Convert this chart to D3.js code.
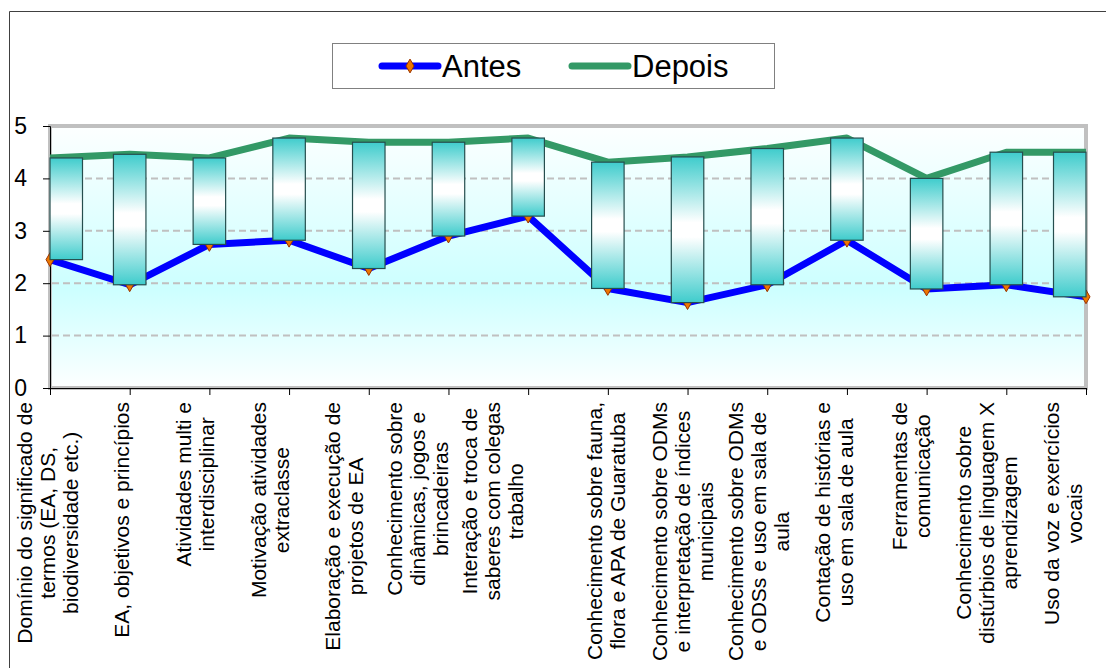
<!DOCTYPE html>
<html>
<head>
<meta charset="utf-8">
<script src="https://cdn.jsdelivr.net/npm/d3@7"></script>
<style>
  body { margin: 0; background: #fff; }
  svg { display: block; font-family: "Liberation Sans", Arial, sans-serif; }
</style>
</head>
<body>
<div id="chart"></div>
<script>
// categories (line breaks as in the original axis labels)
const categories = [
  "Domínio do significado de\ntermos (EA, DS,\nbiodiversidade etc.)",
  "EA, objetivos e princípios",
  "Atividades multi e\ninterdisciplinar",
  "Motivação atividades\nextraclasse",
  "Elaboração e execução de\nprojetos de EA",
  "Conhecimento sobre\ndinâmicas, jogos e\nbrincadeiras",
  "Interação e troca de\nsaberes com colegas\ntrabalho",
  "Conhecimento sobre fauna,\nflora e APA de Guaratuba",
  "Conhecimento sobre ODMs\ne interpretação de índices\nmunicipais",
  "Conhecimento sobre ODMs\ne ODSs e uso em sala de\naula",
  "Contação de histórias e\nuso em sala de aula",
  "Ferramentas de\ncomunicação",
  "Conhecimento sobre\ndistúrbios de linguagem X\naprendizagem",
  "Uso da voz e exercícios\nvocais"
];
const antes  = [2.45, 1.97, 2.74, 2.82, 2.28, 2.90, 3.28, 1.90, 1.63, 1.97, 2.82, 1.89, 1.97, 1.74];
const depois = [4.39, 4.46, 4.39, 4.77, 4.69, 4.69, 4.77, 4.31, 4.41, 4.57, 4.77, 4.00, 4.50, 4.50];
const yTicks = [0, 1, 2, 3, 4, 5];
const seriesNames = ["Antes", "Depois"];

const W = 1106, H = 668;
const plot = {left: 50, right: 1086, top: 126, bottom: 388};

const svg = d3.select("#chart").append("svg")
    .attr("width", W)
    .attr("height", H);

const defs = svg.append("defs");

// plot area background: white -> light cyan -> white
const bg = defs.append("linearGradient").attr("id", "bgGrad")
    .attr("x1", 0).attr("y1", 0).attr("x2", 0).attr("y2", 1);
bg.append("stop").attr("offset", "0%").attr("stop-color", "#fdffff");
bg.append("stop").attr("offset", "62%").attr("stop-color", "#ccffff");
bg.append("stop").attr("offset", "100%").attr("stop-color", "#fdffff");

// up bars: teal -> white -> teal
const bar = defs.append("linearGradient").attr("id", "barGrad")
    .attr("x1", 0).attr("y1", 0).attr("x2", 0).attr("y2", 1);
bar.append("stop").attr("offset", "0%").attr("stop-color", "#3fcccc");
bar.append("stop").attr("offset", "45%").attr("stop-color", "#ffffff");
bar.append("stop").attr("offset", "55%").attr("stop-color", "#ffffff");
bar.append("stop").attr("offset", "100%").attr("stop-color", "#3fcccc");

// chart area border (only top and left are inside the picture)
svg.append("path")
    .attr("d", "M9.5," + H + "V11.5H" + W)
    .attr("fill", "none")
    .attr("stroke", "#404040")
    .attr("stroke-width", 1);

// scales
const x = d3.scalePoint()
    .domain(d3.range(categories.length))
    .range([plot.left, plot.right]);

const y = d3.scaleLinear()
    .domain([0, 5])
    .range([plot.bottom, plot.top]);

// plot area
svg.append("rect")
    .attr("x", plot.left).attr("y", plot.top)
    .attr("width", plot.right - plot.left)
    .attr("height", plot.bottom - plot.top)
    .attr("fill", "url(#bgGrad)")
    .attr("stroke", "#c0c0c0")
    .attr("stroke-width", 4);

// gridlines
svg.append("g")
    .selectAll("line")
    .data(yTicks.filter(d => d > 0 && d < 5))
    .enter().append("line")
    .attr("x1", plot.left + 2).attr("x2", plot.right - 2)
    .attr("y1", d => y(d)).attr("y2", d => y(d))
    .attr("stroke", "#c0c0c0")
    .attr("stroke-width", 2)
    .attr("stroke-dasharray", "7,4");

// y axis
const yAxis = svg.append("g")
    .attr("transform", "translate(" + plot.left + ",0)")
    .call(d3.axisLeft(y).tickValues(yTicks).tickFormat(d3.format("d")).tickSize(7).tickPadding(16));
yAxis.select(".domain").attr("stroke", "#000");
yAxis.selectAll("text")
    .attr("font-size", 23)
    .attr("font-family", "Liberation Sans, Arial, sans-serif")
    .attr("fill", "#000");

// x axis (ticks only, labels drawn below)
const xAxis = svg.append("g")
    .attr("transform", "translate(0," + plot.bottom + ")")
    .call(d3.axisBottom(x).tickSize(7).tickFormat(""));
xAxis.select(".domain").attr("stroke", "#000").attr("d", "M" + plot.left + ",0.5H" + plot.right);

// lines
const line = d3.line()
    .x((d, i) => x(i))
    .y(d => y(d));

svg.append("path")
    .datum(depois)
    .attr("d", line)
    .attr("fill", "none")
    .attr("stroke", "#339966")
    .attr("stroke-width", 7)
    .attr("stroke-linejoin", "round");

svg.append("path")
    .datum(antes)
    .attr("d", line)
    .attr("fill", "none")
    .attr("stroke", "#0000ff")
    .attr("stroke-width", 7)
    .attr("stroke-linejoin", "round");

// Antes markers
const diamond = d3.symbol().type(d3.symbolDiamond).size(55);
svg.append("g")
    .selectAll("path")
    .data(antes)
    .enter().append("path")
    .attr("d", diamond)
    .attr("transform", (d, i) => "translate(" + x(i) + "," + y(d) + ")")
    .attr("fill", "#ee7700")
    .attr("stroke", "#993300")
    .attr("stroke-width", 1);

// up-down bars
const barW = 32.5;
svg.append("g")
    .selectAll("rect")
    .data(antes)
    .enter().append("rect")
    .attr("x", (d, i) => Math.max(plot.left, Math.min(plot.right - barW, x(i) - barW / 2)))
    .attr("y", (d, i) => y(Math.max(d, depois[i])))
    .attr("width", barW)
    .attr("height", (d, i) => Math.abs(y(d) - y(depois[i])))
    .attr("fill", "url(#barGrad)")
    .attr("stroke", "#264e4e")
    .attr("stroke-width", 1.2);

// category labels, rotated, lines centred in each block
const fs = 21, lh = 23, labelTop = 402;
const labelShift = i => i < 7 ? -3 - 5.5 * i : -2 - 3.5 * (i - 7);
categories.forEach(function (cat, i) {
  const lines = cat.split("\n");
  const g = svg.append("g")
      .attr("transform", "translate(" + (x(i) + labelShift(i)) + "," + labelTop + ") rotate(-90)");
  const texts = g.selectAll("text")
      .data(lines)
      .enter().append("text")
      .attr("font-size", fs)
      .attr("text-anchor", "middle")
      .attr("fill", "#000")
      .attr("y", (d, k) => (k - (lines.length - 1) / 2) * lh + 7.5)
      .text(d => d);
  let maxLen = 0;
  texts.each(function () { maxLen = Math.max(maxLen, this.getComputedTextLength()); });
  texts.attr("x", -maxLen / 2);
});

// legend
const legend = svg.append("g");
legend.append("rect")
    .attr("x", 332.5).attr("y", 43.5)
    .attr("width", 442).attr("height", 45)
    .attr("fill", "#fff")
    .attr("stroke", "#808080")
    .attr("stroke-width", 1);

const legendItems = [
  {name: seriesNames[0], color: "#0000ff", x0: 382, marker: true},
  {name: seriesNames[1], color: "#339966", x0: 572, marker: false}
];
legendItems.forEach(function (it) {
  legend.append("line")
      .attr("x1", it.x0).attr("x2", it.x0 + 56)
      .attr("y1", 66).attr("y2", 66)
      .attr("stroke", it.color)
      .attr("stroke-width", 7)
      .attr("stroke-linecap", "round");
  if (it.marker) {
    legend.append("path")
        .attr("d", diamond)
        .attr("transform", "translate(" + (it.x0 + 28) + ",66)")
        .attr("fill", "#ee7700")
        .attr("stroke", "#993300");
  }
  legend.append("text")
      .attr("x", it.x0 + 60).attr("y", 77)
      .attr("font-size", 31)
      .attr("fill", "#000")
      .text(it.name);
});
</script>
</body>
</html>
